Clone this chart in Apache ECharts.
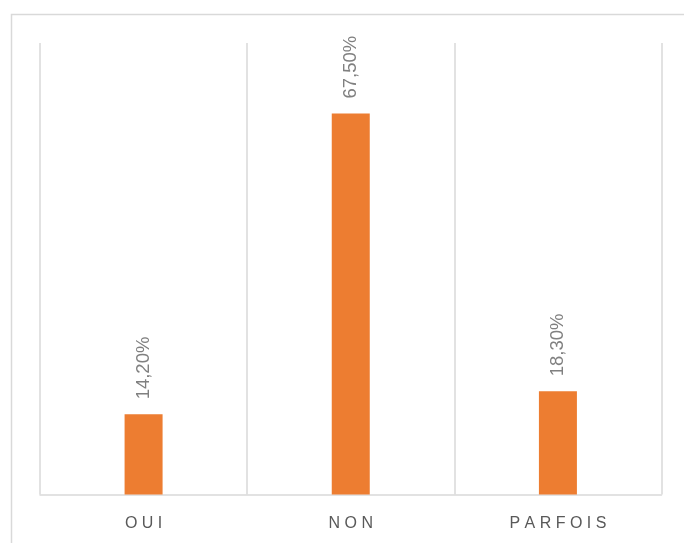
<!DOCTYPE html>
<html>
<head>
<meta charset="utf-8">
<script src="https://cdn.jsdelivr.net/npm/echarts@6/dist/echarts.min.js"></script>
<style>
html,body{margin:0;padding:0;background:#fff;}
#c{width:684px;height:543px;}
</style>
</head>
<body>
<div id="c"></div>
<script>
const categories = ["OUI", "NON", "PARFOIS"];
const values = [14.2, 67.5, 18.3];
const yMax = 80;

const chart = echarts.init(document.getElementById('c'), null, {renderer: 'canvas'});
chart.setOption({
  animation: false,
  backgroundColor: '#ffffff',
  graphic: [{
    type: 'rect',
    shape: {x: 11.5, y: 14.5, width: 720, height: 600},
    style: {fill: 'none', stroke: '#d9d9d9', lineWidth: 1.5},
    silent: true
  }],
  grid: {left: 40, right: 22.5, top: 43, bottom: 48.5, containLabel: false},
  xAxis: {
    type: 'category',
    data: categories,
    boundaryGap: true,
    axisLine: {show: true, lineStyle: {color: '#d9d9d9', width: 1.5}},
    axisTick: {show: false},
    splitLine: {show: true, lineStyle: {color: '#d9d9d9', width: 1.5}},
    axisLabel: {
      color: '#595959',
      fontFamily: 'Liberation Sans',
      fontSize: 16,
      margin: 21,
      formatter: v => v.split('').join(' ')
    }
  },
  yAxis: {
    type: 'value',
    min: 0,
    max: yMax,
    show: false,
    splitLine: {show: false}
  },
  series: [{
    type: 'bar',
    data: values,
    barWidth: 38,
    itemStyle: {color: '#ED7D31'},
    label: {
      show: true,
      position: 'top',
      rotate: 90,
      align: 'left',
      verticalAlign: 'middle',
      distance: 15,
      color: '#808080',
      fontFamily: 'Liberation Sans',
      fontSize: 18.5,
      formatter: p => p.value.toFixed(2).replace('.', ',') + '%'
    }
  }]
});
</script>
</body>
</html>
